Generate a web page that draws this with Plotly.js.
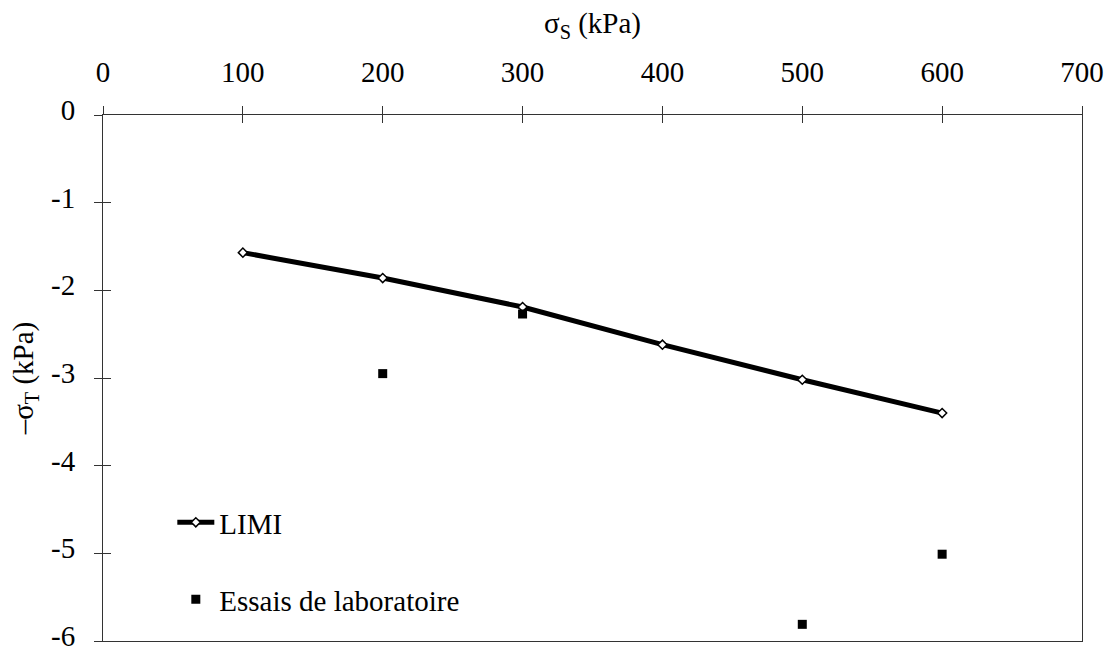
<!DOCTYPE html>
<html>
<head>
<meta charset="utf-8">
<script src="https://cdn.plot.ly/plotly-3.0.1.min.js"></script>
<style>
  html, body { margin: 0; padding: 0; background: #ffffff; }
  #chart { width: 1111px; height: 654px; }
</style>
</head>
<body>
<div id="chart"></div>
<script>
// Data
const sigmaS_LIMI = [100, 200, 300, 400, 500, 600];
const sigmaT_LIMI = [-1.57, -1.86, -2.19, -2.62, -3.02, -3.40];

const sigmaS_lab = [200, 300, 500, 600];
const sigmaT_lab = [-2.95, -2.27, -5.81, -5.01];

const xTickVals = [0, 100, 200, 300, 400, 500, 600, 700];
const yTickVals = [0, -1, -2, -3, -4, -5, -6];
const yTickText = ['0', '-1', '-2', '-3', '-4', '-5', '-6'];

const FONT = '"Liberation Serif", "Times New Roman", Times, serif';
const FS = 29;
const AX = '#333333';

const traces = [
  {
    x: sigmaS_LIMI, y: sigmaT_LIMI,
    type: 'scatter', mode: 'lines+markers', name: 'LIMI',
    line: { color: '#000000', width: 5 },
    marker: { symbol: 'diamond', size: 7, color: '#ffffff', line: { color: '#000000', width: 1.5 } },
    legend: 'legend',
    xaxis: 'x', yaxis: 'y'
  },
  {
    x: sigmaS_lab, y: sigmaT_lab,
    type: 'scatter', mode: 'markers', name: 'Essais de laboratoire',
    marker: { symbol: 'square', size: 9, color: '#000000' },
    legend: 'legend2',
    xaxis: 'x', yaxis: 'y'
  },
  // invisible helper to activate the overlay axes that draw the inner half of the cross ticks
  { x: [0], y: [0], xaxis: 'x2', yaxis: 'y2', mode: 'markers', marker: { opacity: 0 }, showlegend: false, hoverinfo: 'skip' }
];

const layout = {
  width: 1111, height: 654,
  margin: { l: 103, r: 29, t: 115, b: 13, pad: 0 },
  paper_bgcolor: '#ffffff', plot_bgcolor: '#ffffff',
  font: { family: FONT, size: FS, color: '#000000' },
  showlegend: true,
  xaxis: {
    side: 'top', range: [0, 700], tickvals: xTickVals,
    ticks: 'outside', ticklen: 8, tickwidth: 1, tickcolor: AX,
    showline: true, linecolor: AX, linewidth: 1, mirror: true,
    showgrid: false, zeroline: false,
    tickfont: { family: FONT, size: FS, color: '#000' },
    ticklabelstandoff: 12, ticklabeloverflow: 'allow',
    title: { text: 'σ<sub>S</sub> (kPa)', font: { family: FONT, size: FS, color: '#000' }, standoff: 14 },
    automargin: false
  },
  xaxis2: {
    overlaying: 'x', matches: 'x', side: 'top', range: [0, 700], tickvals: xTickVals,
    ticks: 'inside', ticklen: 8, tickwidth: 1, tickcolor: AX,
    showticklabels: false, showline: false, showgrid: false, zeroline: false
  },
  yaxis: {
    range: [-6, 0], tickvals: yTickVals, ticktext: yTickText,
    ticks: 'outside', ticklen: 8, tickwidth: 1, tickcolor: AX,
    showline: true, linecolor: AX, linewidth: 1, mirror: true,
    showgrid: false, zeroline: false,
    tickfont: { family: FONT, size: FS, color: '#000' },
    ticklabelstandoff: 13, ticklabeloverflow: 'allow', ticklabelshift: -5,
    title: { text: '–σ<sub>T</sub> (kPa)', font: { family: FONT, size: FS, color: '#000' }, standoff: 8 },
    automargin: false
  },
  yaxis2: {
    overlaying: 'y', matches: 'y', side: 'left', range: [-6, 0], tickvals: yTickVals,
    ticks: 'inside', ticklen: 8, tickwidth: 1, tickcolor: AX,
    showticklabels: false, showline: false, showgrid: false, zeroline: false
  },
  legend: {
    x: 0.0708, y: 0.2254, xanchor: 'left', yanchor: 'middle',
    bgcolor: 'rgba(0,0,0,0)', borderwidth: 0, itemwidth: 37,
    font: { family: FONT, size: FS, color: '#000' }
  },
  legend2: {
    x: 0.0708, y: 0.0792, xanchor: 'left', yanchor: 'middle',
    bgcolor: 'rgba(0,0,0,0)', borderwidth: 0, itemwidth: 37,
    font: { family: FONT, size: FS, color: '#000' }
  }
};

Plotly.newPlot('chart', traces, layout, { displayModeBar: false, staticPlot: true });
</script>
</body>
</html>
